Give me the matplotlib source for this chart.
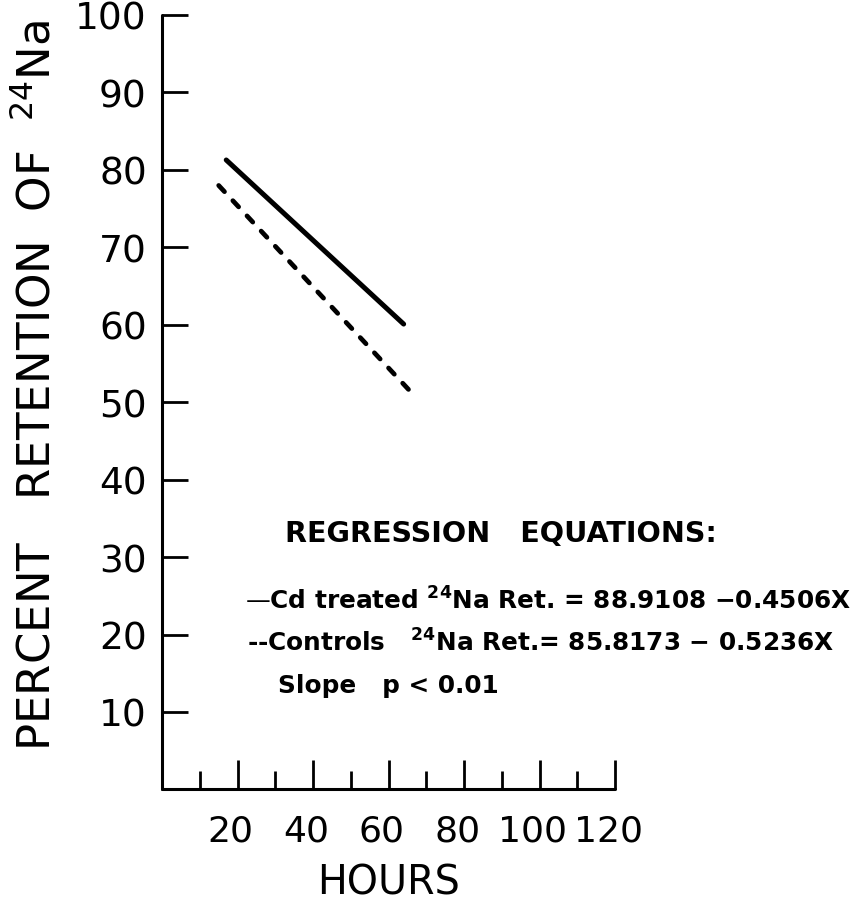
import matplotlib
matplotlib.use("Agg")
import matplotlib.pyplot as plt
from matplotlib.transforms import ScaledTranslation

plt.rcParams['font.family'] = 'DejaVu Sans'
plt.rcParams['mathtext.fontset'] = 'dejavusans'

# regression fits (intercept, slope) and the span of hours each one covers
cd_intercept, cd_slope = 88.9108, -0.4506
ctrl_intercept, ctrl_slope = 85.8173, -0.5236
cd_hours = [17, 64]
ctrl_hours = [15, 66]

x_major = [20, 40, 60, 80, 100, 120]
x_minor = [10, 30, 50, 70, 90, 110]
y_ticks = [10, 20, 30, 40, 50, 60, 70, 80, 90, 100]

cd_ret = [cd_intercept + cd_slope * h for h in cd_hours]
ctrl_ret = [ctrl_intercept + ctrl_slope * h for h in ctrl_hours]

fig = plt.figure(figsize=(8.53, 9.04), dpi=100)
ax = fig.add_axes([0.19, 0.1256, 0.531, 0.857])

ax.plot(cd_hours, cd_ret, color='black', linewidth=3.6, solid_capstyle='round')
ax.plot(ctrl_hours, ctrl_ret, color='black', linewidth=3.4,
        dashes=(1.8, 2.6), dash_capstyle='round')

ax.set_xlim(0, 120)
ax.set_ylim(0, 100)
for side in ['top', 'right']:
    ax.spines[side].set_visible(False)
for side in ['left', 'bottom']:
    ax.spines[side].set_linewidth(2.2)
    ax.spines[side].set_capstyle('round')

ax.set_xticks(x_major)
ax.set_xticks(x_minor, minor=True)
ax.set_yticks(y_ticks)
ax.tick_params(axis='x', which='major', direction='in', length=21, width=2.0,
               labelsize=26, pad=17)
ax.tick_params(axis='x', which='minor', direction='in', length=13, width=2.0)
ax.tick_params(axis='y', direction='in', length=19, width=2.0,
               labelsize=27, pad=11)

# hand lettered numbers sit a little left of their ticks
shift = ScaledTranslation(-5 / 72, 0, fig.dpi_scale_trans)
for lab in ax.get_xticklabels():
    lab.set_transform(lab.get_transform() + shift)

ax.set_xlabel('HOURS', fontsize=28.5, labelpad=11)
fig.text(37 / 853, 0.574, 'PERCENT   RETENTION  OF  $^{24}$Na',
         fontsize=32.5, rotation=90, ha='center', va='center')

eq_font = dict(fontweight='bold', color='black')
ax.text(32.6, 32.1, 'REGRESSION   EQUATIONS:', fontsize=20.6, va='baseline', **eq_font)
ax.text(22.0, 23.3, r'—Cd treated $^{\mathbf{24}}$Na Ret. = 88.9108 $\mathbf{-}$0.4506X',
        fontsize=17.8, va='baseline', clip_on=False, **eq_font)
ax.text(22.4, 17.9, r'--Controls   $^{\mathbf{24}}$Na Ret.= 85.8173 $\mathbf{-}$ 0.5236X',
        fontsize=17.8, va='baseline', clip_on=False, **eq_font)
ax.text(30.8, 12.6, 'Slope   p < 0.01', fontsize=17.8, va='baseline', **eq_font)

fig.savefig('out.png', dpi=100, facecolor='white')
